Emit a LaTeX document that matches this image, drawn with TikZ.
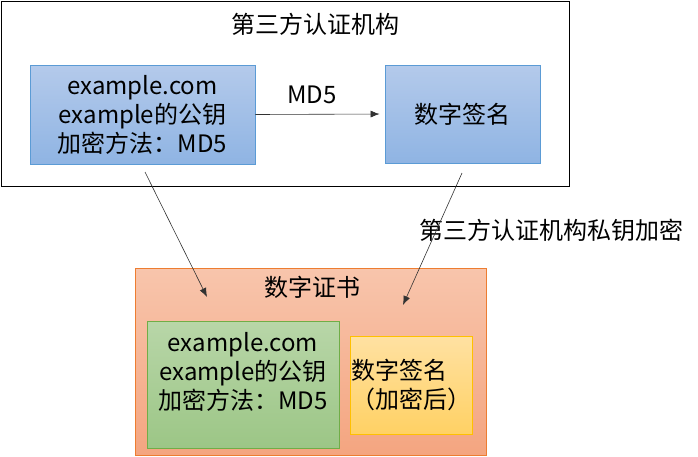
\documentclass[tikz,border=0pt]{standalone}
\usepackage{fontspec}
\setmainfont{Noto Sans CJK SC}
\usetikzlibrary{arrows.meta}
\definecolor{BlueTop}{RGB}{180,202,235}
\definecolor{BlueBot}{RGB}{143,180,227}
\definecolor{BlueLine}{RGB}{91,155,213}
\definecolor{OrangeTop}{RGB}{248,197,172}
\definecolor{OrangeBot}{RGB}{244,165,128}
\definecolor{OrangeLine}{RGB}{237,125,49}
\definecolor{GreenTop}{RGB}{184,214,168}
\definecolor{GreenBot}{RGB}{156,198,134}
\definecolor{GreenLine}{RGB}{112,173,71}
\definecolor{YellowTop}{RGB}{255,225,162}
\definecolor{YellowBot}{RGB}{255,209,100}
\definecolor{YellowLine}{RGB}{255,192,0}
\definecolor{ArrowClr}{RGB}{50,50,50}

\tikzset{
  txt/.style={font=\fontsize{24}{29}\selectfont, inner sep=0pt, align=center},
  box/.style={txt, rectangle, line width=0.8pt},
  bluebox/.style={box, draw=BlueLine, top color=BlueTop, bottom color=BlueBot},
  conn/.style={draw=ArrowClr, line width=0.6pt, -{Latex[length=9pt,width=7pt]}}
}

\begin{document}
\begin{tikzpicture}[x=1pt,y=-1pt]
\useasboundingbox (0,0) rectangle (698,456);

% third-party authority
\node[box, draw=black, minimum width=568pt, minimum height=185pt] (ca) at (285,93.5) {};
\node[txt] (catitle) at (315,24) {第三方认证机构};
\node[bluebox, minimum width=225pt, minimum height=99pt] (info) at (142.5,114.5)
  {example.com\\example的公钥\\加密方法：MD5};
\node[bluebox, minimum width=155pt, minimum height=98pt] (sign) at (462.5,114) {数字签名};
\node[txt] (md5) at (312,95) {MD5};

% certificate
\node[box, draw=OrangeLine, top color=OrangeTop, bottom color=OrangeBot,
  minimum width=351pt, minimum height=187pt] (cert) at (310.5,361.5) {};
\node[txt] (certtitle) at (312,287) {数字证书};
\node[box, draw=GreenLine, top color=GreenTop, bottom color=GreenBot,
  minimum width=192pt, minimum height=127pt] (certinfo) at (243,384.5) {};
\node[txt] (certinfotext) at (243,372) {example.com\\example的公钥\\加密方法：MD5};
\node[box, draw=YellowLine, top color=YellowTop, bottom color=YellowBot,
  minimum width=122pt, minimum height=98pt, align=left] (certsign) at (411,385)
  {数字签名\\（加密后）};

\node[txt] (enc) at (551,230) {第三方认证机构私钥加密};

% free ends of the connectors
\coordinate (infofoot) at (145,172);
\coordinate (signfoot) at (462,173);
\coordinate (infoend) at (207,297);
\coordinate (signend) at (403,305);

\draw[conn, shorten >=5pt] (info.east |- info.center) -- (sign.west);
\draw[conn] (infofoot) -- (infoend);
\draw[conn] (signfoot) -- (signend);

\end{tikzpicture}
\end{document}
